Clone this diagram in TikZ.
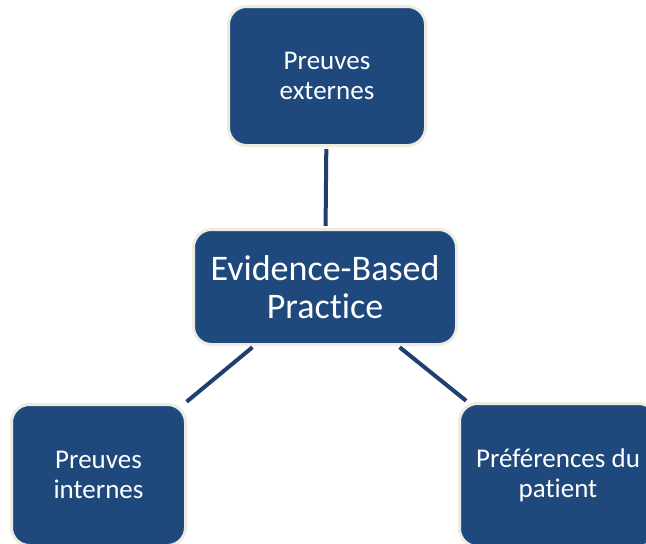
\documentclass[tikz,border=0pt]{standalone}
\usepackage{fontspec}
\setmainfont{Carlito}[Ligatures=NoCommon]
\definecolor{boxfill}{HTML}{1F497D}
\definecolor{boxrim}{HTML}{EEECE1}
\definecolor{linkcol}{HTML}{1F3F6E}
\begin{document}
\begin{tikzpicture}[x=1pt,y=-1pt,
  ebox/.style={draw=boxrim, line width=3pt, fill=boxfill, rounded corners=18pt,
    text=white, align=center, inner sep=0pt},
  small/.style={ebox, font=\fontsize{27}{30}\selectfont},
  big/.style={ebox, font=\fontsize{36}{38}\selectfont},
  link/.style={draw=linkcol, line width=4pt}]
\clip (0,0) rectangle (646,544);
\fill[white] (0,0) rectangle (646,544);
\node[small, minimum width=197pt, minimum height=139pt] (top) at (327,76) {Preuves\\externes};
\node[big, minimum width=263pt, minimum height=115pt] (mid) at (325,287) {Evidence-Based\\Practice};
\node[small, minimum width=174pt, minimum height=141pt] (bl) at (98.5,475) {Preuves\\internes};
\node[small, minimum width=197pt, minimum height=143pt] (br) at (558,475) {Préférences du\\patient};
\draw[link, shorten <=2pt, shorten >=2pt] (mid) -- (top);
\draw[link, shorten <=2pt, shorten >=2pt] (mid) -- (bl);
\draw[link, shorten <=2pt, shorten >=2pt] (mid) -- (br);
\end{tikzpicture}
\end{document}
